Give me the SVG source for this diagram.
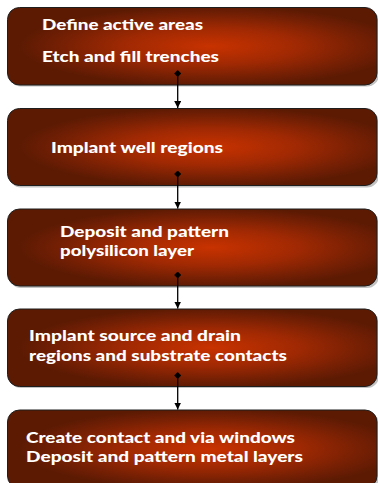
<svg xmlns="http://www.w3.org/2000/svg" width="378" height="483" viewBox="0 0 378 483">
  <defs>
    <radialGradient id="stepFill" cx="0.55" cy="0.5" r="0.52" fx="0.55" fy="0.5">
      <stop offset="0" stop-color="#c83200"/>
      <stop offset="0.45" stop-color="#a02903"/>
      <stop offset="0.8" stop-color="#731f04"/>
      <stop offset="1" stop-color="#5c1a03"/>
    </radialGradient>
    <marker id="arrowHead" viewBox="0 0 10 10" refX="10" refY="5" markerWidth="7" markerHeight="7" markerUnits="userSpaceOnUse" orient="auto">
      <path d="M0,0 L10,5 L0,10 Z" fill="#000"/>
    </marker>
    <marker id="diamondTail" viewBox="0 0 10 10" refX="5" refY="5" markerWidth="7" markerHeight="7" markerUnits="userSpaceOnUse" orient="auto">
      <path d="M0,5 L5,0 L10,5 L5,10 Z" fill="#000"/>
    </marker>
  </defs>
  <style>
    .shadow { fill: #9a9a9a; opacity: 0.6; }
    .box { fill: url(#stepFill); stroke: #1e1e1e; stroke-width: 1; }
    .label { font-family: Lato, "Liberation Sans", sans-serif; font-weight: 900; font-size: 15.5px; fill: #ffffff; }
    .conn { stroke: #000; stroke-width: 1.3; fill: none; marker-start: url(#diamondTail); marker-end: url(#arrowHead); }
  </style>

  <rect width="378" height="483" fill="#ffffff"/>

  <g id="step1">
    <rect class="shadow" x="9" y="9.5" width="370" height="77" rx="12"/>
    <rect class="box" x="7.5" y="7.5" width="369.5" height="77.5" rx="12"/>
    <text class="label" x="42" y="30" textLength="161" lengthAdjust="spacingAndGlyphs">Define active areas</text>
    <text class="label" x="42" y="62" textLength="177" lengthAdjust="spacingAndGlyphs">Etch and fill trenches</text>
  </g>

  <g id="step2">
    <rect class="shadow" x="9" y="110.5" width="370" height="77" rx="12"/>
    <rect class="box" x="7.5" y="108.5" width="369.5" height="77" rx="12"/>
    <text class="label" x="51" y="153" textLength="172" lengthAdjust="spacingAndGlyphs">Implant well regions</text>
  </g>

  <g id="step3">
    <rect class="shadow" x="9" y="211" width="370" height="77" rx="12"/>
    <rect class="box" x="7.5" y="209" width="369.5" height="77" rx="12"/>
    <text class="label" x="60" y="236.5" textLength="169" lengthAdjust="spacingAndGlyphs">Deposit and pattern</text>
    <text class="label" x="60" y="255.5" textLength="134" lengthAdjust="spacingAndGlyphs">polysilicon layer</text>
  </g>

  <g id="step4">
    <rect class="shadow" x="9" y="311" width="370" height="77" rx="12"/>
    <rect class="box" x="7.5" y="309" width="369.5" height="77.5" rx="12"/>
    <text class="label" x="29" y="340.5" textLength="212" lengthAdjust="spacingAndGlyphs">Implant source and drain</text>
    <text class="label" x="29" y="360.5" textLength="258" lengthAdjust="spacingAndGlyphs">regions and substrate contacts</text>
  </g>

  <g id="step5">
    <rect class="shadow" x="9" y="412" width="370" height="78" rx="12"/>
    <rect class="box" x="7.5" y="410" width="369.5" height="78" rx="12"/>
    <text class="label" x="26" y="442.5" textLength="269" lengthAdjust="spacingAndGlyphs">Create contact and via windows</text>
    <text class="label" x="26" y="461.5" textLength="277" lengthAdjust="spacingAndGlyphs">Deposit and pattern metal layers</text>
  </g>

  <g id="connectors">
    <line class="conn" x1="177.7" y1="73.5" x2="177.7" y2="108"/>
    <line class="conn" x1="177.7" y1="174" x2="177.7" y2="208.5"/>
    <line class="conn" x1="177.7" y1="275" x2="177.7" y2="308.5"/>
    <line class="conn" x1="177.7" y1="375.5" x2="177.7" y2="409.5"/>
  </g>
</svg>
